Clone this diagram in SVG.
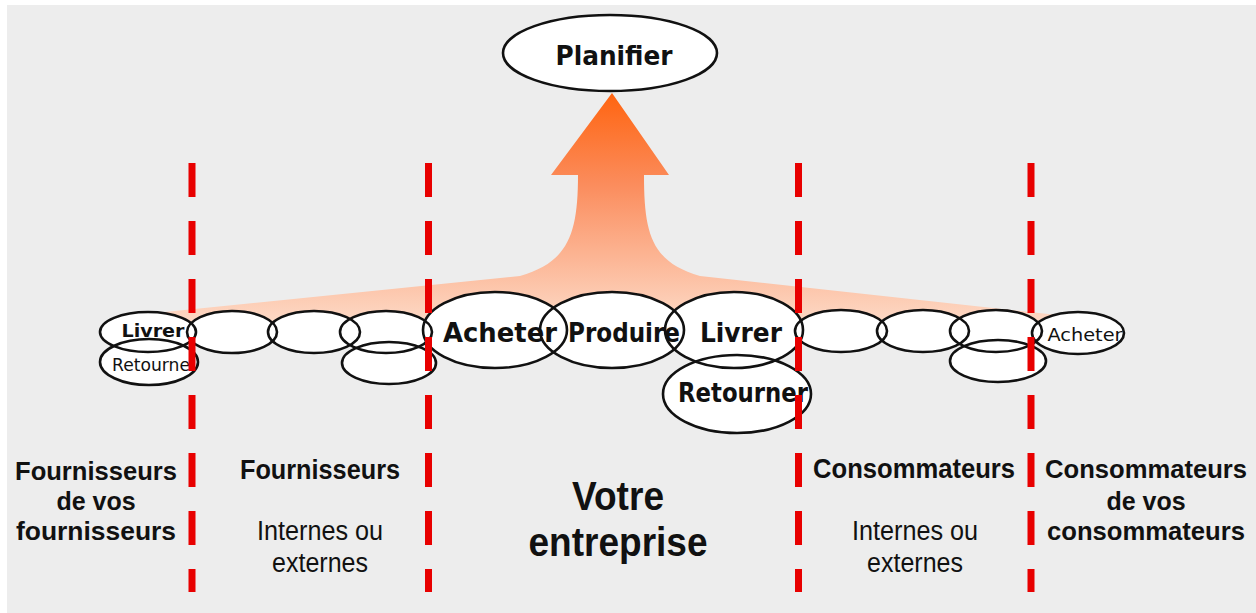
<svg xmlns="http://www.w3.org/2000/svg" width="1256" height="613" viewBox="0 0 1256 613">
  <defs>
    <linearGradient id="flow" gradientUnits="userSpaceOnUse" x1="0" y1="93" x2="0" y2="320">
      <stop offset="0" stop-color="#ff6410"/>
      <stop offset="0.4" stop-color="#fb8c5c"/>
      <stop offset="1" stop-color="#fdd8c4"/>
    </linearGradient>
    <style>
      .fill { fill: #ffffff; stroke: none; }
      .ring { fill: none; stroke: #111111; stroke-width: 2.6; }
      .step { font-family: "DejaVu Sans", "Noto Sans", sans-serif; fill: #111111; text-anchor: middle; }
      .big { font-size: 26px; font-weight: bold; }
      .small { font-size: 17px; }
      .zone { font-family: "Liberation Sans", Arial, sans-serif; fill: #111111; text-anchor: middle; }
      .zb { font-weight: bold; font-size: 25px; }
      .zr { font-size: 25px; }
      .cut { stroke: #e80000; stroke-width: 7; stroke-dasharray: 34 24; fill: none; }
    </style>
  </defs>

  <!-- page -->
  <rect x="0" y="0" width="1256" height="613" fill="#ffffff"/>
  <rect x="7" y="5" width="1249" height="608" fill="#ededed"/>

  <!-- planning flow rising from the chain -->
  <path d="M 612 93 L 669 175 L 644 175 C 644 235 652 262 700 276 L 1085 318 L 1085 330 L 145 330 L 145 314 L 520 276 C 568 262 578 235 578 175 L 551 175 Z" fill="url(#flow)"/>

  <!-- white bodies of all process bubbles (drawn below every outline) -->
  <g id="bubble-fills">
    <ellipse class="fill" cx="610" cy="53" rx="107" ry="38"/>
    <ellipse class="fill" cx="148" cy="332" rx="48" ry="20"/>
    <ellipse class="fill" cx="149" cy="362" rx="49" ry="23"/>
    <ellipse class="fill" cx="232" cy="332" rx="45" ry="21"/>
    <ellipse class="fill" cx="314" cy="332" rx="46" ry="21"/>
    <ellipse class="fill" cx="386" cy="332" rx="46" ry="21"/>
    <ellipse class="fill" cx="389" cy="363" rx="47" ry="21"/>
    <ellipse class="fill" cx="495" cy="330" rx="72" ry="38"/>
    <ellipse class="fill" cx="612" cy="330" rx="72" ry="38"/>
    <ellipse class="fill" cx="734" cy="330" rx="69" ry="38"/>
    <ellipse class="fill" cx="737" cy="394" rx="74" ry="39"/>
    <ellipse class="fill" cx="841" cy="331" rx="46" ry="21"/>
    <ellipse class="fill" cx="923" cy="331" rx="46" ry="21"/>
    <ellipse class="fill" cx="996" cy="331" rx="46" ry="21"/>
    <ellipse class="fill" cx="998" cy="361" rx="48" ry="21"/>
    <ellipse class="fill" cx="1078" cy="333" rx="46" ry="21"/>
  </g>

  <g id="planifier">
    <ellipse class="ring" cx="610" cy="53" rx="107" ry="38"/>
    <text class="step big" x="614" y="65" font-size="28" textLength="117" lengthAdjust="spacingAndGlyphs">Planifier</text>
  </g>

  <!-- suppliers of suppliers -->
  <g id="ff-livrer">
    <ellipse class="ring" cx="148" cy="332" rx="48" ry="20"/>
    <text class="step small" x="153" y="337" font-size="19" font-weight="bold" textLength="63" lengthAdjust="spacingAndGlyphs">Livrer</text>
  </g>
  <g id="ff-retourner">
    <ellipse class="ring" cx="149" cy="362" rx="49" ry="23"/>
    <text class="step small" x="151" y="371" font-size="16" textLength="78" lengthAdjust="spacingAndGlyphs">Retourne</text>
  </g>

  <!-- suppliers -->
  <g id="f-1"><ellipse class="ring" cx="232" cy="332" rx="45" ry="21"/></g>
  <g id="f-2"><ellipse class="ring" cx="314" cy="332" rx="46" ry="21"/></g>
  <g id="f-3"><ellipse class="ring" cx="386" cy="332" rx="46" ry="21"/></g>
  <g id="f-4"><ellipse class="ring" cx="389" cy="363" rx="47" ry="21"/></g>

  <!-- the company -->
  <g id="acheter">
    <ellipse class="ring" cx="495" cy="330" rx="72" ry="38"/>
    <text class="step big" x="500" y="342" textLength="114" lengthAdjust="spacingAndGlyphs">Acheter</text>
  </g>
  <g id="produire">
    <ellipse class="ring" cx="612" cy="330" rx="72" ry="38"/>
    <text class="step big" x="624" y="342" textLength="112" lengthAdjust="spacingAndGlyphs">Produire</text>
  </g>
  <g id="livrer">
    <ellipse class="ring" cx="734" cy="330" rx="69" ry="38"/>
    <text class="step big" x="741" y="342" textLength="82" lengthAdjust="spacingAndGlyphs">Livrer</text>
  </g>
  <g id="retourner">
    <ellipse class="ring" cx="737" cy="394" rx="74" ry="39"/>
    <text class="step big" x="743" y="402" textLength="130" lengthAdjust="spacingAndGlyphs">Retourner</text>
  </g>

  <!-- customers -->
  <g id="c-1"><ellipse class="ring" cx="841" cy="331" rx="46" ry="21"/></g>
  <g id="c-2"><ellipse class="ring" cx="923" cy="331" rx="46" ry="21"/></g>
  <g id="c-3"><ellipse class="ring" cx="996" cy="331" rx="46" ry="21"/></g>
  <g id="c-4"><ellipse class="ring" cx="998" cy="361" rx="48" ry="21"/></g>

  <!-- customers of customers -->
  <g id="cc-acheter">
    <ellipse class="ring" cx="1078" cy="333" rx="46" ry="21"/>
    <text class="step small" x="1085" y="341" font-size="18" textLength="75" lengthAdjust="spacingAndGlyphs">Acheter</text>
  </g>

  <!-- boundaries between the chain members -->
  <g id="connectors">
    <line class="cut" x1="192" y1="163" x2="192" y2="592"/>
    <line class="cut" x1="428.5" y1="163" x2="428.5" y2="592"/>
    <line class="cut" x1="798.5" y1="163" x2="798.5" y2="592"/>
    <line class="cut" x1="1031" y1="163" x2="1031" y2="592"/>
  </g>

  <!-- zone captions -->
  <g id="zone-ff" class="zone zb">
    <text transform="translate(96 480) scale(1 1.06)" textLength="162" lengthAdjust="spacingAndGlyphs">Fournisseurs</text>
    <text transform="translate(96 510) scale(1 1.06)">de vos</text>
    <text transform="translate(96 540) scale(1 1.06)" textLength="160" lengthAdjust="spacingAndGlyphs">fournisseurs</text>
  </g>
  <g id="zone-f" class="zone">
    <text class="zb" transform="translate(320 479) scale(1 1.12)" textLength="160" lengthAdjust="spacingAndGlyphs">Fournisseurs</text>
    <text class="zr" transform="translate(320 540) scale(1 1.08)" textLength="126" lengthAdjust="spacingAndGlyphs">Internes ou</text>
    <text class="zr" transform="translate(320 572) scale(1 1.08)">externes</text>
  </g>
  <g id="zone-e" class="zone">
    <text font-weight="bold" font-size="36" transform="translate(618 510) scale(1 1.12)" textLength="92" lengthAdjust="spacingAndGlyphs">Votre</text>
    <text font-weight="bold" font-size="36" transform="translate(618 556) scale(1 1.12)" textLength="179" lengthAdjust="spacingAndGlyphs">entreprise</text>
  </g>
  <g id="zone-c" class="zone">
    <text class="zb" transform="translate(914 478) scale(1 1.12)" textLength="202" lengthAdjust="spacingAndGlyphs">Consommateurs</text>
    <text class="zr" transform="translate(915 540) scale(1 1.08)" textLength="126" lengthAdjust="spacingAndGlyphs">Internes ou</text>
    <text class="zr" transform="translate(915 572) scale(1 1.08)">externes</text>
  </g>
  <g id="zone-cc" class="zone zb">
    <text transform="translate(1146 478) scale(1 1.06)" textLength="202" lengthAdjust="spacingAndGlyphs">Consommateurs</text>
    <text transform="translate(1146 510) scale(1 1.06)">de vos</text>
    <text transform="translate(1146 540) scale(1 1.06)" textLength="198" lengthAdjust="spacingAndGlyphs">consommateurs</text>
  </g>
</svg>
